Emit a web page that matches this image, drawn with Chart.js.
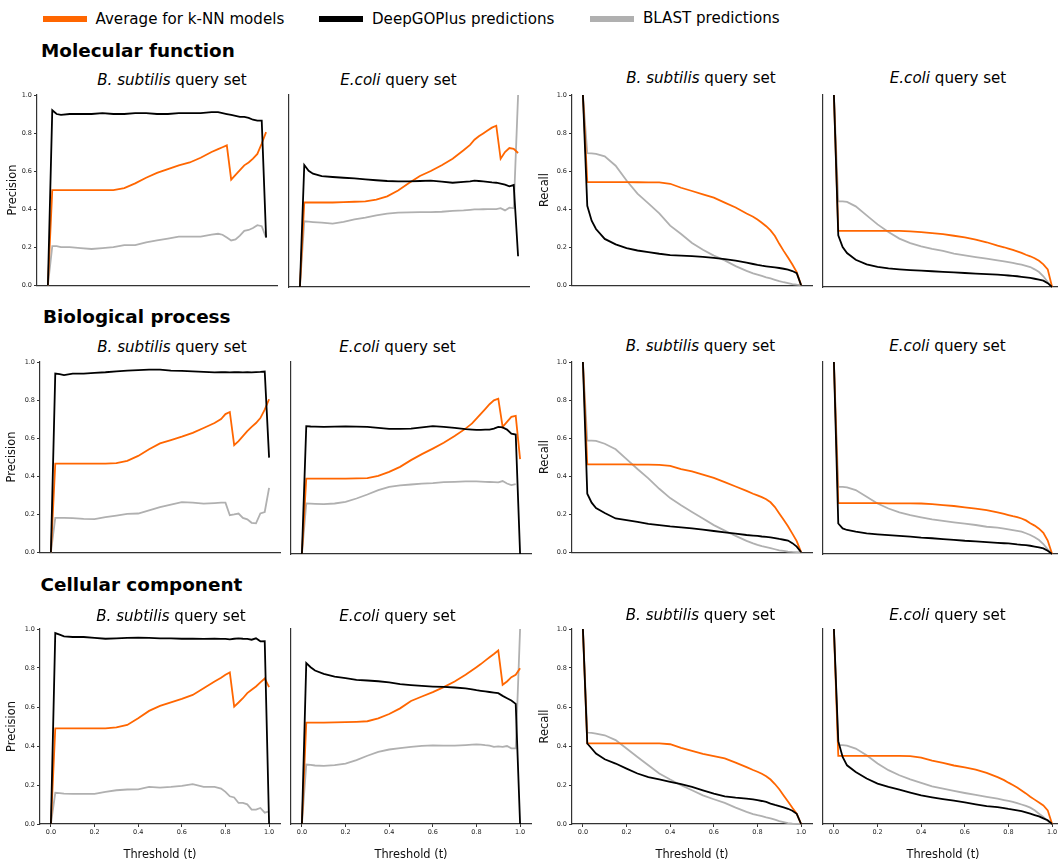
<!DOCTYPE html>
<html>
<head>
<meta charset="utf-8">
<script src="https://cdn.jsdelivr.net/npm/chart.js@4.4.1/dist/chart.umd.min.js"></script>
<style>
  body { margin: 0; background: #fff; }
  #fig { position: relative; width: 1058px; height: 863px; overflow: hidden; background: #fff;
         font-family: 'DejaVu Sans', sans-serif; color: #000; }
  .txt { position: absolute; white-space: nowrap; line-height: 1; }
  .swatch { position: absolute; height: 6px; }
  .panel { position: absolute; }
</style>
</head>
<body>
<div id="fig"></div>
<script>
// thresholds shared by every panel
const thresholds = [0, 0.02, 0.04, 0.06, 0.1, 0.15, 0.2, 0.25, 0.3, 0.35, 0.4, 0.45, 0.5, 0.55, 0.6, 0.65, 0.7, 0.75, 0.78, 0.8, 0.82, 0.84, 0.86, 0.88, 0.9, 0.92, 0.94, 0.96, 0.98, 1.0];
const tick_values = [0, 0.2, 0.4, 0.6, 0.8, 1.0];

const series_names = ['Average for k-NN models', 'DeepGOPlus predictions', 'BLAST predictions'];
const sections = ['Molecular function', 'Biological process', 'Cellular component'];
const query_sets = [['B. subtilis', ' query set'], ['E.coli', ' query set']];
const metrics = ['Precision', 'Recall'];
const x_label = 'Threshold (t)';

// Molecular function
const mf_bsub_prec_knn = [0, 0.50, 0.50, 0.50, 0.50, 0.50, 0.50, 0.50, 0.50, 0.51, 0.535, 0.565, 0.59, 0.61, 0.63, 0.645, 0.67, 0.70, 0.715, 0.725, 0.735, 0.555, 0.58, 0.605, 0.63, 0.645, 0.665, 0.69, 0.745, 0.805];
const mf_bsub_prec_deepgo = [0, 0.92, 0.90, 0.895, 0.90, 0.90, 0.90, 0.905, 0.90, 0.90, 0.905, 0.905, 0.90, 0.90, 0.905, 0.905, 0.905, 0.91, 0.91, 0.905, 0.90, 0.895, 0.89, 0.885, 0.885, 0.88, 0.87, 0.865, 0.865, 0.25];
const mf_bsub_prec_blast = [0, 0.205, 0.205, 0.20, 0.20, 0.195, 0.19, 0.195, 0.20, 0.21, 0.21, 0.225, 0.235, 0.245, 0.255, 0.255, 0.255, 0.265, 0.27, 0.265, 0.25, 0.235, 0.24, 0.26, 0.285, 0.29, 0.30, 0.315, 0.31, 0.25];

const mf_ecoli_prec_knn = [0, 0.44, 0.44, 0.44, 0.44, 0.44, 0.442, 0.444, 0.446, 0.455, 0.472, 0.503, 0.542, 0.578, 0.604, 0.634, 0.668, 0.712, 0.74, 0.767, 0.785, 0.80, 0.815, 0.83, 0.84, 0.668, 0.703, 0.724, 0.72, 0.698];
const mf_ecoli_prec_deepgo = [0, 0.635, 0.605, 0.59, 0.578, 0.573, 0.569, 0.566, 0.561, 0.556, 0.552, 0.55, 0.55, 0.552, 0.554, 0.549, 0.543, 0.547, 0.55, 0.554, 0.552, 0.55, 0.548, 0.545, 0.543, 0.538, 0.533, 0.524, 0.531, 0.16];
const mf_ecoli_prec_blast = [0, 0.342, 0.34, 0.338, 0.335, 0.33, 0.339, 0.352, 0.361, 0.373, 0.382, 0.387, 0.389, 0.39, 0.39, 0.392, 0.396, 0.399, 0.402, 0.404, 0.404, 0.405, 0.406, 0.406, 0.406, 0.411, 0.399, 0.413, 0.41, 1.0];

const mf_bsub_rec_knn = [1.0, 0.542, 0.542, 0.542, 0.542, 0.542, 0.542, 0.541, 0.54, 0.54, 0.533, 0.512, 0.495, 0.477, 0.46, 0.434, 0.408, 0.377, 0.36, 0.345, 0.328, 0.31, 0.288, 0.258, 0.217, 0.18, 0.145, 0.108, 0.068, 0];
const mf_bsub_rec_deepgo = [1.0, 0.417, 0.339, 0.295, 0.243, 0.214, 0.194, 0.182, 0.174, 0.165, 0.158, 0.155, 0.152, 0.148, 0.143, 0.137, 0.129, 0.118, 0.111, 0.106, 0.102, 0.099, 0.096, 0.093, 0.09, 0.086, 0.081, 0.074, 0.063, 0];
const mf_bsub_rec_blast = [1.0, 0.694, 0.693, 0.69, 0.677, 0.628, 0.55, 0.481, 0.43, 0.377, 0.313, 0.269, 0.222, 0.186, 0.155, 0.13, 0.1, 0.075, 0.062, 0.055, 0.048, 0.041, 0.035, 0.028, 0.021, 0.015, 0.01, 0.005, 0.002, 0];

const mf_ecoli_rec_knn = [1.0, 0.292, 0.292, 0.292, 0.292, 0.292, 0.292, 0.292, 0.292, 0.29, 0.286, 0.281, 0.275, 0.267, 0.258, 0.247, 0.233, 0.215, 0.207, 0.2, 0.193, 0.186, 0.178, 0.168, 0.16, 0.15, 0.137, 0.118, 0.092, 0];
const mf_ecoli_rec_deepgo = [1.0, 0.269, 0.208, 0.177, 0.142, 0.118, 0.105, 0.097, 0.092, 0.088, 0.085, 0.082, 0.079, 0.076, 0.073, 0.07, 0.067, 0.064, 0.062, 0.06, 0.058, 0.056, 0.053, 0.05, 0.047, 0.043, 0.039, 0.033, 0.02, 0];
const mf_ecoli_rec_blast = [1.0, 0.446, 0.446, 0.443, 0.42, 0.373, 0.326, 0.286, 0.252, 0.229, 0.212, 0.198, 0.188, 0.174, 0.165, 0.156, 0.148, 0.139, 0.134, 0.13, 0.126, 0.121, 0.116, 0.11, 0.104, 0.092, 0.078, 0.056, 0.026, 0];

// Biological process
const bp_bsub_prec_knn = [0, 0.465, 0.465, 0.465, 0.465, 0.465, 0.465, 0.465, 0.468, 0.48, 0.506, 0.541, 0.572, 0.589, 0.607, 0.627, 0.653, 0.679, 0.70, 0.726, 0.737, 0.563, 0.584, 0.61, 0.636, 0.659, 0.679, 0.705, 0.749, 0.804];
const bp_bsub_prec_deepgo = [0, 0.939, 0.936, 0.931, 0.939, 0.939, 0.943, 0.946, 0.951, 0.955, 0.957, 0.96, 0.96, 0.955, 0.953, 0.951, 0.948, 0.945, 0.946, 0.946, 0.945, 0.946, 0.946, 0.945, 0.946, 0.945, 0.947, 0.948, 0.95, 0.497];
const bp_bsub_prec_blast = [0, 0.18, 0.18, 0.18, 0.179, 0.175, 0.173, 0.184, 0.192, 0.201, 0.203, 0.22, 0.237, 0.25, 0.263, 0.26, 0.255, 0.258, 0.26, 0.26, 0.194, 0.198, 0.203, 0.18, 0.172, 0.154, 0.151, 0.203, 0.211, 0.338];

const bp_ecoli_prec_knn = [0, 0.393, 0.393, 0.393, 0.393, 0.393, 0.393, 0.394, 0.395, 0.407, 0.428, 0.454, 0.489, 0.52, 0.549, 0.579, 0.614, 0.653, 0.68, 0.705, 0.73, 0.755, 0.78, 0.80, 0.809, 0.662, 0.688, 0.714, 0.719, 0.494];
const bp_ecoli_prec_deepgo = [0, 0.666, 0.664, 0.663, 0.662, 0.663, 0.664, 0.663, 0.662, 0.657, 0.652, 0.652, 0.653, 0.66, 0.666, 0.662, 0.657, 0.65, 0.648, 0.646, 0.647, 0.648, 0.648, 0.653, 0.662, 0.659, 0.648, 0.627, 0.622, 0];
const bp_ecoli_prec_blast = [0, 0.263, 0.262, 0.261, 0.26, 0.263, 0.272, 0.289, 0.31, 0.333, 0.35, 0.357, 0.362, 0.367, 0.369, 0.374, 0.376, 0.378, 0.378, 0.378, 0.377, 0.376, 0.375, 0.374, 0.373, 0.38, 0.367, 0.359, 0.364, null];

const bp_bsub_rec_knn = [1.0, 0.461, 0.461, 0.461, 0.461, 0.461, 0.461, 0.46, 0.46, 0.459, 0.454, 0.437, 0.425, 0.408, 0.39, 0.368, 0.345, 0.322, 0.307, 0.298, 0.289, 0.278, 0.262, 0.237, 0.203, 0.17, 0.136, 0.097, 0.058, 0];
const bp_bsub_rec_deepgo = [1.0, 0.307, 0.26, 0.232, 0.206, 0.177, 0.168, 0.159, 0.149, 0.142, 0.135, 0.13, 0.125, 0.118, 0.111, 0.104, 0.097, 0.09, 0.087, 0.085, 0.082, 0.08, 0.077, 0.074, 0.069, 0.065, 0.061, 0.047, 0.029, 0];
const bp_bsub_rec_blast = [1.0, 0.586, 0.586, 0.585, 0.57, 0.541, 0.489, 0.437, 0.388, 0.333, 0.284, 0.246, 0.211, 0.177, 0.142, 0.113, 0.085, 0.059, 0.046, 0.038, 0.031, 0.026, 0.021, 0.015, 0.009, 0.006, 0.003, 0.001, 0, 0];

const bp_ecoli_rec_knn = [1.0, 0.265, 0.265, 0.265, 0.265, 0.265, 0.265, 0.264, 0.264, 0.264, 0.263, 0.26, 0.255, 0.25, 0.243, 0.236, 0.229, 0.217, 0.209, 0.203, 0.197, 0.192, 0.185, 0.175, 0.16, 0.148, 0.132, 0.11, 0.07, 0];
const bp_ecoli_rec_deepgo = [1.0, 0.159, 0.133, 0.125, 0.116, 0.107, 0.102, 0.098, 0.094, 0.09, 0.085, 0.082, 0.078, 0.074, 0.069, 0.066, 0.062, 0.058, 0.056, 0.055, 0.053, 0.05, 0.048, 0.046, 0.043, 0.039, 0.034, 0.029, 0.017, 0];
const bp_ecoli_rec_blast = [1.0, 0.35, 0.35, 0.347, 0.333, 0.298, 0.263, 0.237, 0.217, 0.203, 0.191, 0.18, 0.173, 0.165, 0.158, 0.151, 0.142, 0.137, 0.132, 0.128, 0.124, 0.12, 0.116, 0.108, 0.099, 0.087, 0.073, 0.052, 0.024, 0];

// Cellular component
const cc_bsub_prec_knn = [0, 0.49, 0.49, 0.49, 0.49, 0.49, 0.49, 0.49, 0.496, 0.508, 0.542, 0.58, 0.606, 0.624, 0.642, 0.662, 0.696, 0.731, 0.75, 0.765, 0.777, 0.602, 0.623, 0.645, 0.671, 0.688, 0.705, 0.726, 0.746, 0.702];
const cc_bsub_prec_deepgo = [0, 0.979, 0.971, 0.962, 0.959, 0.959, 0.954, 0.95, 0.952, 0.954, 0.955, 0.954, 0.952, 0.952, 0.95, 0.95, 0.949, 0.95, 0.949, 0.949, 0.947, 0.95, 0.952, 0.95, 0.949, 0.945, 0.952, 0.937, 0.938, 0];
const cc_bsub_prec_blast = [0, 0.16, 0.158, 0.156, 0.154, 0.154, 0.154, 0.165, 0.173, 0.177, 0.178, 0.19, 0.187, 0.19, 0.196, 0.204, 0.19, 0.19, 0.182, 0.165, 0.142, 0.136, 0.108, 0.108, 0.101, 0.074, 0.074, 0.082, 0.058, 0.065];

const cc_ecoli_prec_knn = [0, 0.52, 0.52, 0.52, 0.52, 0.521, 0.522, 0.524, 0.527, 0.542, 0.564, 0.593, 0.631, 0.654, 0.676, 0.702, 0.731, 0.765, 0.788, 0.804, 0.82, 0.838, 0.855, 0.872, 0.89, 0.714, 0.731, 0.753, 0.765, 0.799];
const cc_ecoli_prec_deepgo = [0, 0.825, 0.804, 0.787, 0.77, 0.756, 0.748, 0.739, 0.736, 0.732, 0.726, 0.717, 0.712, 0.708, 0.705, 0.703, 0.70, 0.695, 0.69, 0.686, 0.683, 0.68, 0.677, 0.674, 0.671, 0.657, 0.645, 0.633, 0.616, 0];
const cc_ecoli_prec_blast = [0, 0.305, 0.303, 0.30, 0.298, 0.302, 0.31, 0.328, 0.35, 0.37, 0.382, 0.389, 0.396, 0.401, 0.403, 0.402, 0.402, 0.405, 0.407, 0.408, 0.407, 0.404, 0.402, 0.396, 0.398, 0.396, 0.40, 0.388, 0.388, 1.0];

const cc_bsub_rec_knn = [1.0, 0.413, 0.413, 0.413, 0.413, 0.413, 0.413, 0.413, 0.413, 0.413, 0.409, 0.39, 0.375, 0.36, 0.348, 0.336, 0.315, 0.292, 0.277, 0.268, 0.258, 0.245, 0.228, 0.205, 0.178, 0.146, 0.115, 0.083, 0.053, 0];
const cc_bsub_rec_deepgo = [1.0, 0.413, 0.387, 0.361, 0.332, 0.31, 0.284, 0.259, 0.241, 0.229, 0.216, 0.204, 0.19, 0.173, 0.156, 0.142, 0.135, 0.13, 0.126, 0.122, 0.118, 0.113, 0.105, 0.098, 0.092, 0.085, 0.078, 0.068, 0.052, 0];
const cc_bsub_rec_blast = [1.0, 0.469, 0.467, 0.464, 0.455, 0.43, 0.387, 0.344, 0.301, 0.259, 0.228, 0.199, 0.173, 0.147, 0.127, 0.108, 0.084, 0.062, 0.051, 0.045, 0.04, 0.034, 0.029, 0.022, 0.015, 0.01, 0.005, 0.002, 0, 0];

const cc_ecoli_rec_knn = [1.0, 0.349, 0.349, 0.349, 0.349, 0.349, 0.349, 0.349, 0.349, 0.348, 0.34, 0.325, 0.313, 0.30, 0.29, 0.279, 0.262, 0.24, 0.225, 0.212, 0.2, 0.187, 0.172, 0.157, 0.14, 0.125, 0.11, 0.095, 0.07, 0];
const cc_ecoli_rec_deepgo = [1.0, 0.425, 0.344, 0.301, 0.267, 0.233, 0.207, 0.19, 0.176, 0.161, 0.147, 0.137, 0.128, 0.12, 0.111, 0.101, 0.092, 0.086, 0.081, 0.077, 0.074, 0.07, 0.066, 0.06, 0.053, 0.046, 0.039, 0.029, 0.019, 0];
const cc_ecoli_rec_blast = [1.0, 0.404, 0.404, 0.402, 0.387, 0.353, 0.31, 0.276, 0.25, 0.229, 0.211, 0.193, 0.182, 0.17, 0.159, 0.149, 0.139, 0.13, 0.123, 0.118, 0.113, 0.107, 0.1, 0.093, 0.084, 0.07, 0.053, 0.036, 0.015, 0];

// [knn, deepgo, blast] for each row / column
const panel_series = [
    [[mf_bsub_prec_knn, mf_bsub_prec_deepgo, mf_bsub_prec_blast], [mf_ecoli_prec_knn, mf_ecoli_prec_deepgo, mf_ecoli_prec_blast],
     [mf_bsub_rec_knn, mf_bsub_rec_deepgo, mf_bsub_rec_blast], [mf_ecoli_rec_knn, mf_ecoli_rec_deepgo, mf_ecoli_rec_blast]],
    [[bp_bsub_prec_knn, bp_bsub_prec_deepgo, bp_bsub_prec_blast], [bp_ecoli_prec_knn, bp_ecoli_prec_deepgo, bp_ecoli_prec_blast],
     [bp_bsub_rec_knn, bp_bsub_rec_deepgo, bp_bsub_rec_blast], [bp_ecoli_rec_knn, bp_ecoli_rec_deepgo, bp_ecoli_rec_blast]],
    [[cc_bsub_prec_knn, cc_bsub_prec_deepgo, cc_bsub_prec_blast], [cc_ecoli_prec_knn, cc_ecoli_prec_deepgo, cc_ecoli_prec_blast],
     [cc_bsub_rec_knn, cc_bsub_rec_deepgo, cc_bsub_rec_blast], [cc_ecoli_rec_knn, cc_ecoli_rec_deepgo, cc_ecoli_rec_blast]],
];

// ---- layout / style ----
const FONT = "'DejaVu Sans', sans-serif";
const colors = ['#ff6600', '#000000', '#b0b0b0'];
const spine = '#333333';

// plot areas [left, top, width, height]
const rects = [
    [[37, 95, 240, 192], [289, 95, 240, 192], [572, 95, 240, 192], [823, 95, 240, 192]],
    [[40, 362, 240, 192], [291, 362, 240, 192], [572, 362, 240, 192], [823, 362, 240, 192]],
    [[40, 629, 240, 195], [291, 629, 240, 195], [572, 629, 240, 195], [823, 629, 240, 195]],
];
// width of the y axis strip (ticks + title) for the panels that show ticks
const y_strip = [[31, 0, 34, 0], [35, 0, 34, 0], [35, 0, 34, 0]];
const heading_pos = [[41, 58], [43, 324], [40.5, 592]];
const title_base = [[86, 86, 84, 84], [353, 353, 352, 352], [622, 622, 621, 621]];
const title_cx = [[172, 398.5, 701, 948], [172, 397.5, 700.5, 947.5], [171, 397.5, 700.5, 947.5]];
const legend_pos = [[43, 87, 95.5, 25], [319, 363, 372, 24.5], [590, 634, 643, 24]];

const fig = document.getElementById('fig');

function addText(html, x, baseline, size, bold, center) {
    const el = document.createElement('div');
    el.className = 'txt';
    el.innerHTML = html;
    el.style.fontSize = size + 'px';
    if (bold) el.style.fontWeight = 'bold';
    el.style.top = (baseline - 0.846 * size) + 'px';
    el.style.left = x + 'px';
    if (center) el.style.transform = 'translateX(-50%)';
    fig.appendChild(el);
}

// legend
series_names.forEach((name, i) => {
    const [x0, x1, tx, base] = legend_pos[i];
    const sw = document.createElement('div');
    sw.className = 'swatch';
    sw.style.left = x0 + 'px';
    sw.style.top = '16px';
    sw.style.width = (x1 - x0) + 'px';
    sw.style.background = colors[i];
    fig.appendChild(sw);
    addText(name, tx, base, 15.1, false, false);
});

// section headings
sections.forEach((s, r) => addText(s, heading_pos[r][0], heading_pos[r][1], 18.4, true, false));

function makePanel(r, c) {
    const [L, T, W, H] = rects[r][c];
    const showY = c % 2 === 0;
    const showX = r === 2;
    const Ay = showY ? y_strip[r][c] : 4;
    const Ax = showX ? 38 : 4;
    const padT = 6, padR = 6;

    const wrap = document.createElement('div');
    wrap.className = 'panel';
    wrap.style.left = (L - Ay) + 'px';
    wrap.style.top = (T - padT) + 'px';
    const canvas = document.createElement('canvas');
    canvas.width = W + Ay + padR;
    canvas.height = H + Ax + padT;
    wrap.appendChild(canvas);
    fig.appendChild(wrap);

    const [knn, deepgo, blast] = panel_series[r][c];
    const pts = vals => thresholds.map((t, i) => ({ x: t, y: vals[i] }));
    const ds = (vals, color) => ({
        data: pts(vals), borderColor: color, borderWidth: 1.8,
        pointRadius: 0, tension: 0, clip: false, spanGaps: false
    });

    const tickFont = { size: 6.5, family: FONT };
    const titleFont = { size: 11.4, family: FONT };

    new Chart(canvas.getContext('2d'), {
        type: 'line',
        data: {
            // first dataset is drawn on top
            datasets: [ds(deepgo, colors[1]), ds(knn, colors[0]), ds(blast, colors[2])]
        },
        options: {
            responsive: false,
            animation: false,
            devicePixelRatio: 1,
            layout: { padding: { top: padT, right: padR, left: 0, bottom: 0 } },
            plugins: { legend: { display: false }, tooltip: { enabled: false } },
            scales: {
                x: {
                    type: 'linear', min: -0.05, max: 1.05,
                    afterBuildTicks: s => { s.ticks = tick_values.map(v => ({ value: v })); },
                    afterFit: s => { s.height = Ax; },
                    border: { display: true, color: spine, width: 1.2 },
                    grid: { display: showX, drawOnChartArea: false, drawTicks: true, tickLength: 3, color: spine },
                    ticks: { display: showX, padding: 1, font: tickFont, color: '#222', maxRotation: 0,
                             autoSkip: false, callback: v => Number(v).toFixed(1) },
                    title: { display: showX, text: x_label, font: titleFont, color: '#111', padding: 0 }
                },
                y: {
                    type: 'linear', min: 0, max: 1,
                    afterBuildTicks: s => { s.ticks = tick_values.map(v => ({ value: v })); },
                    afterFit: s => { s.width = Ay; },
                    border: { display: true, color: spine, width: 1.2 },
                    grid: { display: showY, drawOnChartArea: false, drawTicks: true, tickLength: 3, color: spine },
                    ticks: { display: showY, padding: 2, font: tickFont, color: '#222',
                             autoSkip: false, callback: v => Number(v).toFixed(1) },
                    title: { display: showY, text: metrics[c < 2 ? 0 : 1], font: titleFont, color: '#111', padding: 0 }
                }
            }
        }
    });

    const q = query_sets[c % 2];
    addText('<i>' + q[0] + '</i>' + q[1], title_cx[r][c], title_base[r][c], 15.1, false, true);
}

for (let r = 0; r < 3; r++) {
    for (let c = 0; c < 4; c++) makePanel(r, c);
}
</script>
</body>
</html>
